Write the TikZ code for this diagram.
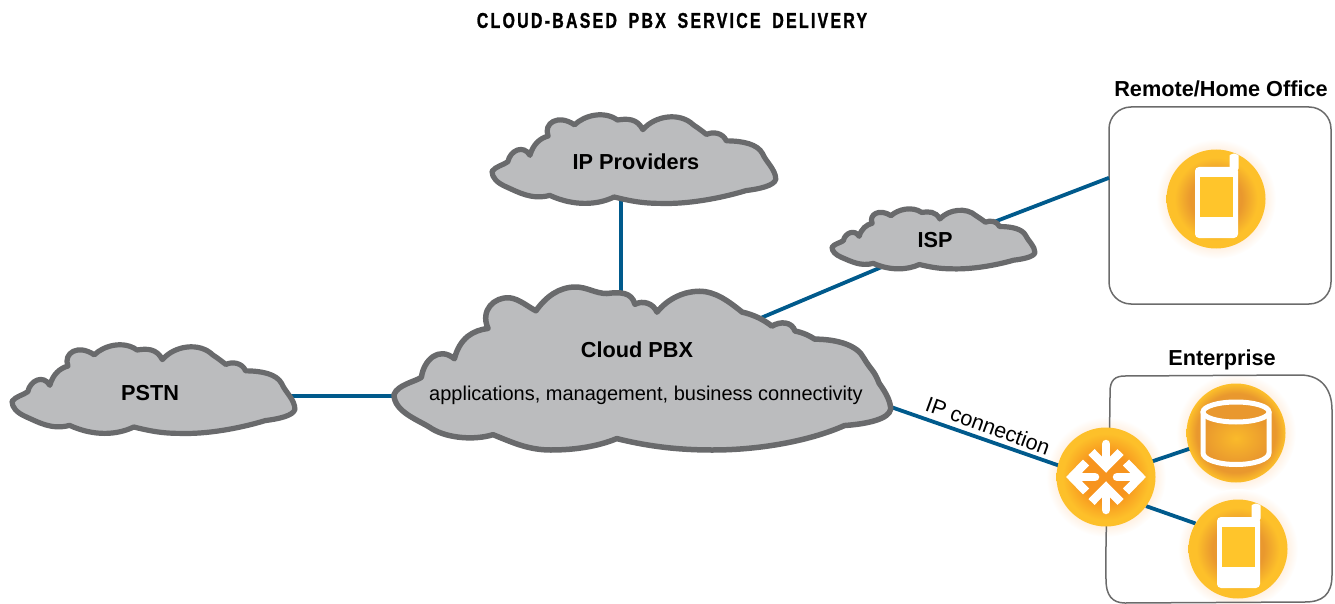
\documentclass[tikz,border=0pt]{standalone}
\usepackage{fontspec}
\setmainfont{Liberation Sans}
\newfontfamily\titlefont[LetterSpace=10.5,FakeStretch=0.74,FakeBold=1.2]{Liberation Sans}[BoldFont={Liberation Sans Bold}]
\definecolor{linkblue}{HTML}{005A8C}
\definecolor{cloudfill}{HTML}{BBBCBE}
\definecolor{cloudedge}{HTML}{696A6C}
\definecolor{boxedge}{HTML}{6B6B6B}
\definecolor{orbyellow}{HTML}{FDC02A}
\definecolor{orbdark}{HTML}{E9982E}
\definecolor{orbcore}{HTML}{F7941E}
\definecolor{screenyellow}{HTML}{FFC52B}
\pgfdeclareradialshading{orbphone}{\pgfpoint{0bp}{0bp}}{color(0bp)=(orbdark); color(13bp)=(orbdark); color(21bp)=(orbyellow); color(25bp)=(orbyellow); color(50bp)=(orbyellow)}
\pgfdeclareradialshading{orbrouter}{\pgfpoint{0bp}{0bp}}{color(0bp)=(orbcore); color(12bp)=(orbcore); color(22bp)=(orbyellow); color(25bp)=(orbyellow); color(50bp)=(orbyellow)}
\pgfdeclareradialshading{orbdb}{\pgfpoint{0bp}{0bp}}{color(0bp)=(orbdark); color(20bp)=(orbdark); color(25bp)=(orbyellow); color(50bp)=(orbyellow)}
\pgfdeclareradialshading{dbinner}{\pgfpoint{0bp}{0bp}}{color(0bp)=(orbyellow!85!orbdark); color(25bp)=(orbdark); color(50bp)=(orbdark)}
\pgfdeclareradialshading{orbhalo}{\pgfpoint{0bp}{0bp}}{color(0bp)=(orange!20!white); color(20bp)=(orange!12!white); color(25bp)=(white); color(50bp)=(white)}
\tikzset{
  link/.style={draw=linkblue,line width=3.8pt},
  cloudshape/.style={draw=cloudedge,fill=cloudfill,line join=round,line cap=round},
  cloudbox/.style={draw=none,fill=none,inner sep=0pt,outer sep=0pt,rectangle},
  orb/.style={circle,minimum size=99,inner sep=0pt,outer sep=0pt},
  officebox/.style={draw=boxedge,line width=1.5pt},
  boldtext/.style={font=\bfseries\fontsize{21.7}{24}\selectfont,text=black,inner sep=0pt},
  plaintext/.style={font=\fontsize{20}{24}\selectfont,text=black,inner sep=0pt},
  halo/.style={circle,minimum size=120,inner sep=0pt,shading=orbhalo},
  smallcloud/.pic={
    \path[cloudshape,line width=5.2pt,shift={(-30,-30)}]
      (30,215) .. controls (40,200) and (65,195) .. (78,185)
      .. controls (85,150) and (125,130) .. (145,165)
      .. controls (155,130) and (175,112) .. (200,105)
      .. controls (185,65) and (230,35) .. (280,70)
      .. controls (310,40) and (370,25) .. (410,55)
      .. controls (440,50) and (470,50) .. (487,85)
      .. controls (525,40) and (600,30) .. (640,70)
      .. controls (655,80) and (670,92) .. (680,100)
      .. controls (700,90) and (730,95) .. (740,120)
      .. controls (790,120) and (835,130) .. (850,160)
      .. controls (860,185) and (890,210) .. (890,240)
      .. controls (885,260) and (840,270) .. (800,275)
      .. controls (720,300) and (620,318) .. (540,315)
      .. controls (480,315) and (440,305) .. (400,295)
      .. controls (350,320) and (280,325) .. (205,290)
      .. controls (150,305) and (110,280) .. (70,262)
      .. controls (45,250) and (30,235) .. (30,215) -- cycle;
  },
  bigcloud/.pic={
    \path[cloudshape,line width=5.5pt,shift={(-35,-45)}]
      (35,375) .. controls (45,345) and (100,335) .. (118,322)
      .. controls (125,270) and (170,225) .. (218,265)
      .. controls (235,200) and (275,178) .. (320,172)
      .. controls (295,115) and (340,75) .. (385,78)
      .. controls (415,82) and (440,105) .. (465,118)
      .. controls (495,75) and (535,45) .. (585,45)
      .. controls (620,45) and (645,65) .. (680,65)
      .. controls (720,60) and (755,60) .. (765,98)
      .. controls (790,85) and (820,95) .. (832,122)
      .. controls (865,80) and (915,58) .. (960,58)
      .. controls (1010,58) and (1050,90) .. (1090,122)
      .. controls (1125,130) and (1155,145) .. (1180,165)
      .. controls (1205,150) and (1240,150) .. (1250,180)
      .. controls (1275,185) and (1295,195) .. (1310,205)
      .. controls (1380,205) and (1440,225) .. (1458,262)
      .. controls (1480,300) and (1490,300) .. (1505,340)
      .. controls (1530,375) and (1540,400) .. (1540,420)
      .. controls (1535,450) and (1470,465) .. (1400,470)
      .. controls (1300,515) and (1150,545) .. (1000,545)
      .. controls (880,545) and (790,530) .. (710,510)
      .. controls (650,535) and (580,545) .. (510,545)
      .. controls (440,545) and (390,520) .. (335,498)
      .. controls (280,515) and (200,510) .. (150,480)
      .. controls (115,455) and (35,430) .. (35,375) -- cycle;
  },
  phoneicon/.pic={
    \fill[white,rounded corners=2.5pt] (13.5,-30) -- (13.5,-41) arc[start angle=180,end angle=0,x radius=4.5pt,y radius=4.5pt] -- (22.5,-28) -- cycle;
    \fill[white,rounded corners=4pt] (-21,-32) rectangle (22,39);
    \fill[screenyellow] (-16,-22) rectangle (16.7,18.3);
  },
  dbicon/.pic={
    \path[shading=dbinner] (-33,-21) -- (33,-21) -- (33,20) arc[start angle=0,end angle=180,x radius=33pt,y radius=-11.5pt] -- cycle;
    \draw[white,line width=5pt,fill=orbdark] (0,-21) ellipse[x radius=33pt,y radius=10pt];
    \draw[white,line width=5pt,line cap=round] (-33,-21) -- (-33,20) arc[start angle=180,end angle=0,x radius=33pt,y radius=-11.5pt] -- (33,-21);
  },
  inarrow/.pic={
    \draw[white,line width=8.5pt,line cap=round] (0,-33) -- (0,-14);
    \draw[white,line width=8.5pt,line join=miter] (-14.5,-25) -- (0,-10.3) -- (14.5,-25);
  },
  outarrow/.pic={
    \draw[white,line width=8.5pt,line cap=round] (-11,0) -- (-30,0);
    \draw[white,line width=8.5pt,line join=miter] (-20,-14.5) -- (-34,0) -- (-20,14.5);
  },
  x=1pt,y=-1pt
}
\begin{document}
\begin{tikzpicture}[x=1pt,y=-1pt]
\useasboundingbox (0,0) rectangle (1335,604);
% halos
\node[halo] at (1216,199) {};
\node[halo] at (1236,433) {};
\node[halo] at (1238,549) {};
\node[halo] at (1106,477) {};
% title
\node[font=\titlefont\bfseries\fontsize{21.5}{24}\selectfont,inner sep=0pt] (title) at (672,20.5) {CLOUD-BASED\hspace{5pt} PBX\hspace{5pt} SERVICE\hspace{5pt} DELIVERY};
% group boxes
\node[officebox,rectangle,rounded corners=22pt,minimum width=222,minimum height=197,inner sep=0pt,outer sep=0pt] (remote) at (1220,205.5) {};
\draw[officebox] (1106,580) .. controls (1105,520) and (1110,450) .. (1110,392) .. controls (1110,380) and (1115,376) .. (1125,376) -- (1300,375) .. controls (1322,375) and (1332,390) .. (1332,410) -- (1332,575) .. controls (1332,595) and (1322,602) .. (1305,602) -- (1125,603) .. controls (1112,603) and (1106,595) .. (1106,580) -- cycle;
% invisible cloud extents
\node[cloudbox,minimum width=287,minimum height=97] (pstn) at (153.5,388.5) {};
\node[cloudbox,minimum width=288,minimum height=97] (ip) at (634,158.5) {};
\node[cloudbox,minimum width=207,minimum height=54] (isp) at (934,245) {};
\node[cloudbox,minimum width=502,minimum height=167] (pbx) at (642,368) {};
\coordinate (pbxport) at (646,396);
% orbs
\node[orb] (remotephone) at (1216,199) {};
\node[orb] (db) at (1236,433) {};
\node[orb] (entphone) at (1238,549) {};
\node[orb] (router) at (1106,477) {};
% connectors
\draw[link] (ip.255 |- ip.center) -- (ip.255 |- pbx.center);
\draw[link] (pstn.center |- pbxport) -- (pbxport);
\draw[link] (pbx.center) -- (isp.center);
\draw[link] (isp.center) -- (remote.166);
\draw[link] ([xshift=-30pt,yshift=10.5pt]pbx.-9) -- ([yshift=-5pt]router.center);
\draw[link] (router.center) -- (db.center);
\draw[link] (router.-36) -- (entphone.149);
% orbs over the connectors
\node[orb,shading=orbphone] at (remotephone) {};
\node[orb,shading=orbdb] at (db) {};
\node[orb,shading=orbphone] at (entphone) {};
\node[orb,shading=orbrouter] at (router) {};
% clouds
\pic[xscale=0.329,yscale=0.3207] at (12,342) {smallcloud};
\pic[xscale=0.330,yscale=0.3207] at (492,112) {smallcloud};
\pic[xscale=0.236,yscale=0.217] at (832,207) {smallcloud};
\pic[xscale=0.330,yscale=0.326] at (394,287) {bigcloud};
% icons
\pic at (remotephone) {phoneicon};
\pic at (entphone) {phoneicon};
\pic at (db) {dbicon};
\pic at (router) {inarrow};
\pic[yscale=-1] at (router) {inarrow};
\pic at (router) {outarrow};
\pic[xscale=-1] at (router) {outarrow};
% labels
\node[boldtext] (pstnlabel) at (150,393) {PSTN};
\node[boldtext] (iplabel) at (636,162) {IP Providers};
\node[boldtext] (isplabel) at (935,240) {ISP};
\node[boldtext] (pbxlabel) at (637,350) {Cloud PBX};
\node[plaintext] (apps) at (646,395) {applications, management, business connectivity};
\node[plaintext,font=\fontsize{21.5}{24}\selectfont,rotate=-20] (iplink) at (988,426) {IP connection};
\node[boldtext] (remotelabel) at (1221,89) {Remote/Home Office};
\node[boldtext] (entlabel) at (1222,359.5) {Enterprise};
\end{tikzpicture}
\end{document}
